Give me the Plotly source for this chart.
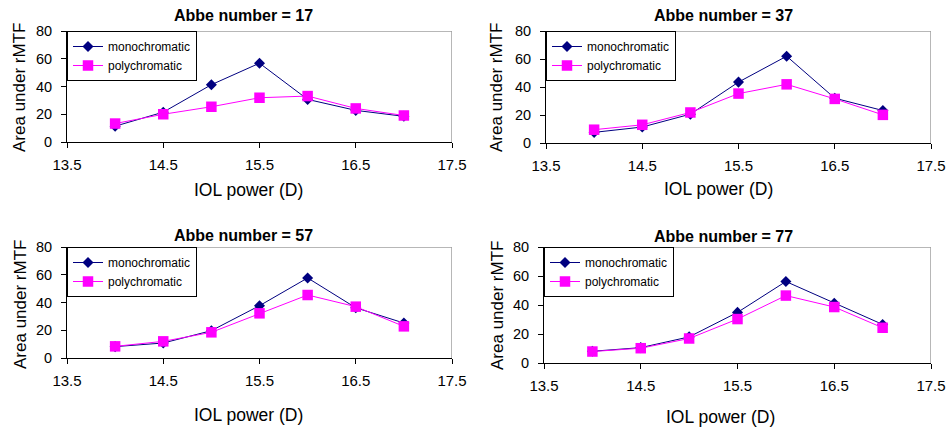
import plotly.graph_objects as go

W, H = 947, 429

iol_power = [14, 14.5, 15, 15.5, 16, 16.5, 17]
abbe_numbers = [17, 37, 57, 77]

mono_17 = [11.4, 21.5, 41.3, 56.8, 30.7, 22.8, 18.5]
poly_17 = [13.3, 20.0, 25.4, 31.9, 33.1, 24.2, 19.1]

mono_37 = [7.6, 11.4, 20.6, 43.5, 62.0, 32.0, 23.2]
poly_37 = [9.5, 13.0, 21.8, 35.3, 41.9, 31.5, 20.1]

mono_57 = [8.2, 10.8, 19.7, 37.7, 57.7, 36.2, 25.2]
poly_57 = [8.4, 12.0, 18.5, 32.2, 45.4, 37.0, 22.8]

mono_77 = [8.1, 10.6, 18.0, 34.9, 56.2, 41.2, 26.6]
poly_77 = [7.9, 10.2, 16.9, 30.3, 46.5, 38.6, 24.3]

mono_all = [mono_17, mono_37, mono_57, mono_77]
poly_all = [poly_17, poly_37, poly_57, poly_77]

x_ticks = [13.5, 14.5, 15.5, 16.5, 17.5]
y_ticks = [0, 20, 40, 60, 80]
X_RANGE = [13.5, 17.5]
Y_RANGE = [0, 80]

# plot-area pixel boxes (left, right, top, bottom)
boxes = [(67, 452, 31, 142), (546, 931, 31, 143), (67, 452, 247, 358), (544, 931, 247, 363)]
title_pos = [(243, 15), (723, 15), (243, 235), (723, 236)]
ytitle_pos = [(20, 88), (497, 88), (20, 305), (497, 306)]
xtitle_pos = [(248, 190), (718, 189), (248, 415), (720, 417)]

FONT = "Arial, Liberation Sans, sans-serif"
NAVY = "#000080"
MAG = "#FF00FF"
FRAME = "#a0a0a0"

fig = go.Figure()
layout = dict(
    width=W, height=H, margin=dict(l=0, r=0, t=0, b=0, autoexpand=False),
    paper_bgcolor="white", plot_bgcolor="white",
    font=dict(family=FONT, color="black"),
    showlegend=True,
)
annotations = []

for i in range(4):
    n = "" if i == 0 else str(i + 1)
    xa, ya = "x" + n, "y" + n
    leg = "legend" + n
    l, r, t, b = boxes[i]
    # light grey frame along the top and right edges of the plot area
    fig.add_trace(go.Scatter(
        x=[X_RANGE[0], X_RANGE[1], X_RANGE[1]], y=[Y_RANGE[1], Y_RANGE[1], Y_RANGE[0]],
        mode="lines", line=dict(color=FRAME, width=1.5), showlegend=False,
        hoverinfo="skip", xaxis=xa, yaxis=ya, legend=leg, cliponaxis=False))
    fig.add_trace(go.Scatter(
        x=iol_power, y=mono_all[i], mode="lines+markers", name="monochromatic",
        line=dict(color=NAVY, width=1),
        marker=dict(symbol="diamond", size=8.5, color=NAVY),
        xaxis=xa, yaxis=ya, legend=leg, cliponaxis=False))
    fig.add_trace(go.Scatter(
        x=iol_power, y=poly_all[i], mode="lines+markers", name="polychromatic",
        line=dict(color=MAG, width=1),
        marker=dict(symbol="square", size=10.5, color=MAG),
        xaxis=xa, yaxis=ya, legend=leg, cliponaxis=False))

    layout["xaxis" + n] = dict(
        domain=[l / W, r / W], anchor=ya, range=X_RANGE,
        tickvals=x_ticks, ticktext=[f"{v:.1f}" for v in x_ticks],
        showgrid=False, zeroline=False, showline=True, linecolor="black", linewidth=1,
        ticks="outside", ticklen=5, tickcolor="black", automargin=False,
        ticklabelstandoff=4,
        tickfont=dict(size=15, family=FONT, color="black"), fixedrange=True)
    layout["yaxis" + n] = dict(
        domain=[1 - b / H, 1 - t / H], anchor=xa, range=Y_RANGE,
        tickvals=y_ticks, ticktext=[str(v) for v in y_ticks],
        showgrid=False, zeroline=False, showline=True, linecolor="black", linewidth=1,
        ticks="outside", ticklen=5, tickcolor="black", automargin=False,
        ticklabelstandoff=6,
        tickfont=dict(size=14.5, family=FONT, color="black"), fixedrange=True)
    layout[leg] = dict(
        x=l / W, y=1 - t / H, xanchor="left", yanchor="top",
        xref="paper", yref="paper",
        bgcolor="white", bordercolor="black", borderwidth=1,
        font=dict(size=12, family=FONT, color="black"),
        tracegroupgap=0, itemwidth=30)

    tx, ty = title_pos[i]
    annotations.append(dict(text=f"<b>Abbe number = {abbe_numbers[i]}</b>", x=tx / W, y=1 - ty / H,
                            xref="paper", yref="paper", showarrow=False,
                            xanchor="center", yanchor="middle",
                            font=dict(size=16, family=FONT, color="black")))
    yx, yy = ytitle_pos[i]
    annotations.append(dict(text="Area under rMTF", x=yx / W, y=1 - yy / H, textangle=-90,
                            xref="paper", yref="paper", showarrow=False,
                            xanchor="center", yanchor="middle",
                            font=dict(size=17, family=FONT, color="black")))
    xx, xy = xtitle_pos[i]
    annotations.append(dict(text="IOL power (D)", x=xx / W, y=1 - xy / H,
                            xref="paper", yref="paper", showarrow=False,
                            xanchor="center", yanchor="middle",
                            font=dict(size=17.5, family=FONT, color="black")))

layout["annotations"] = annotations
fig.update_layout(**layout)
fig.write_html("out.html")
